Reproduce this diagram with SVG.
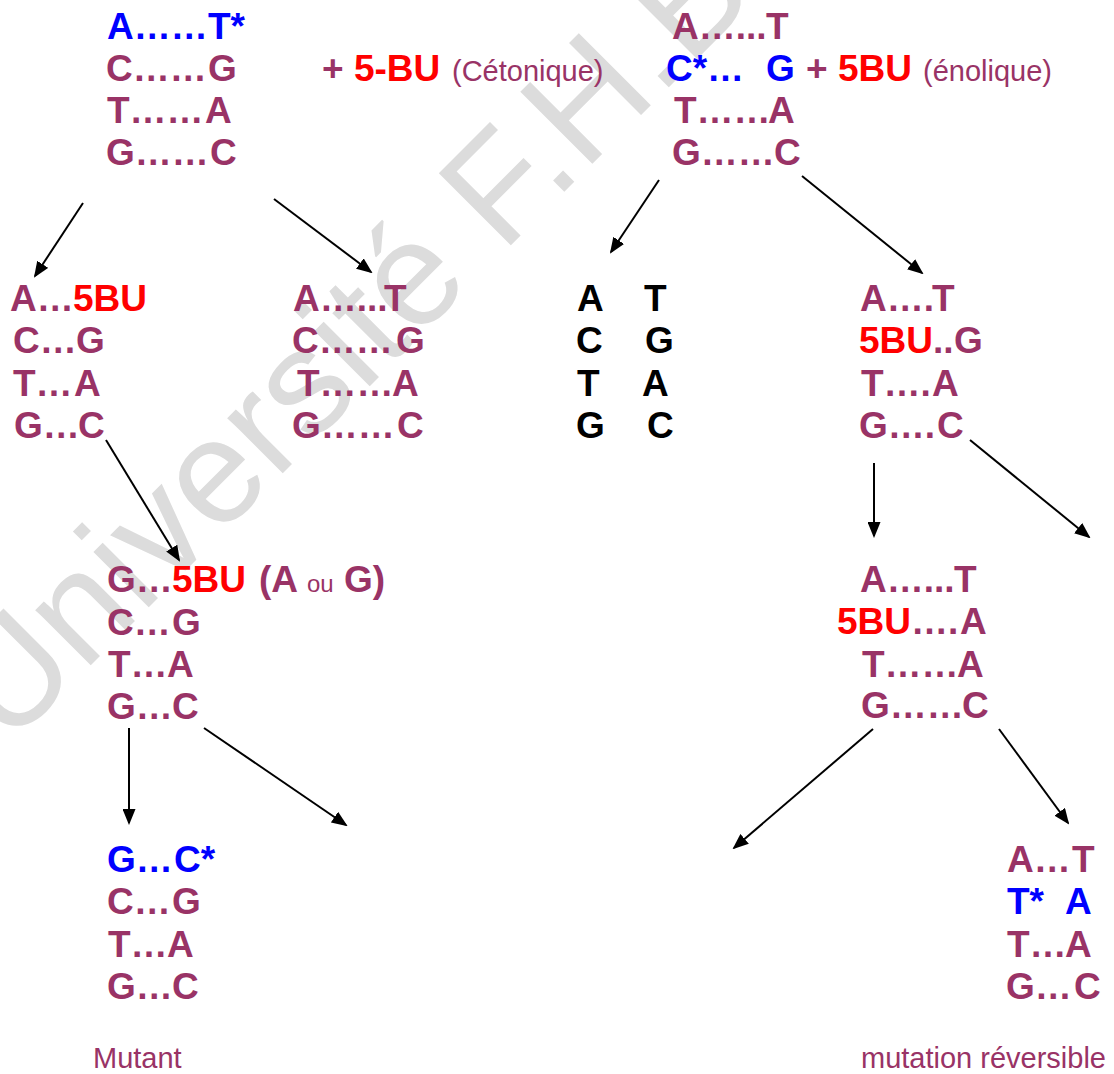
<svg xmlns="http://www.w3.org/2000/svg" width="1114" height="1074" viewBox="0 0 1114 1074">
<style>
text { font-family: "Liberation Sans", Arial, Helvetica, sans-serif; }
.b { font-weight: bold; font-size: 37px; fill: #993366; }
.n { font-weight: normal; font-size: 29px; fill: #993366; }
.s { font-size: 24px; }
.r { fill: #ff0000; }
.u { fill: #0000ff; }
.k { fill: #000000; }
.wm { font-size: 148px; fill: #dcdcdc; font-weight: normal; }
.c line { stroke: #000000; stroke-width: 2; fill: none; marker-end: url(#ah); }
</style>
<defs>
<marker id="ah" viewBox="0 0 16 13" refX="14" refY="6.5" markerWidth="16" markerHeight="13" markerUnits="userSpaceOnUse" orient="auto">
<path d="M0,0 L16,6.5 L0,13 z" fill="#000000"/>
</marker>
</defs>
<rect width="1114" height="1074" fill="#ffffff"/>

<g id="watermark">
<text class="wm" transform="translate(8,748) rotate(-45)">Université F.H.B.</text>
</g>

<g id="n1">
<text class="b u" y="39"><tspan x="107">A……</tspan><tspan x="208">T*</tspan></text>
<text class="b" y="81"><tspan x="106">C……</tspan><tspan x="208">G</tspan></text>
<text class="b" y="123"><tspan x="107">T……</tspan><tspan x="205">A</tspan></text>
<text class="b" y="165"><tspan x="106">G……</tspan><tspan x="210">C</tspan></text>
</g>
<g id="n1label">
<text class="b" y="81"><tspan x="322">+ </tspan><tspan class="r">5-BU</tspan></text>
<text class="n" x="452" y="81">(Cétonique)</text>
</g>

<g id="n2">
<text class="b" y="39"><tspan x="672">A…...</tspan><tspan x="766">T</tspan></text>
<text class="b" y="81"><tspan class="u" x="666">C*…</tspan><tspan class="u" x="766">G</tspan><tspan x="806">+</tspan><tspan class="r" x="838">5BU</tspan></text>
<text class="n" x="923" y="81">(énolique)</text>
<text class="b" y="123"><tspan x="674">T……</tspan><tspan x="768">A</tspan></text>
<text class="b" y="165"><tspan x="672">G……</tspan><tspan x="774">C</tspan></text>
</g>

<g id="n3">
<text class="b" y="311"><tspan x="10">A…</tspan><tspan class="r" x="73">5BU</tspan></text>
<text class="b" y="353"><tspan x="13">C…</tspan><tspan x="76">G</tspan></text>
<text class="b" y="396"><tspan x="13">T…</tspan><tspan x="74">A</tspan></text>
<text class="b" y="438"><tspan x="14">G…</tspan><tspan x="78">C</tspan></text>
</g>

<g id="n4">
<text class="b" y="311"><tspan x="293">A…...</tspan><tspan x="384">T</tspan></text>
<text class="b" y="353"><tspan x="292">C……</tspan><tspan x="396">G</tspan></text>
<text class="b" y="396"><tspan x="297">T……</tspan><tspan x="392">A</tspan></text>
<text class="b" y="438"><tspan x="292">G……</tspan><tspan x="397">C</tspan></text>
</g>

<g id="n5">
<text class="b k" y="311"><tspan x="577">A</tspan><tspan x="644">T</tspan></text>
<text class="b k" y="353"><tspan x="576">C</tspan><tspan x="645">G</tspan></text>
<text class="b k" y="396"><tspan x="577">T</tspan><tspan x="642">A</tspan></text>
<text class="b k" y="438"><tspan x="576">G</tspan><tspan x="647">C</tspan></text>
</g>

<g id="n6">
<text class="b" y="311"><tspan x="860">A….</tspan><tspan x="932">T</tspan></text>
<text class="b" y="353"><tspan class="r" x="859">5BU</tspan><tspan>..</tspan><tspan x="954">G</tspan></text>
<text class="b" y="396"><tspan x="861">T….</tspan><tspan x="932">A</tspan></text>
<text class="b" y="438"><tspan x="859">G….</tspan><tspan x="937">C</tspan></text>
</g>

<g id="n7">
<text class="b" y="592"><tspan x="107">G…</tspan><tspan class="r" x="172">5BU</tspan><tspan x="259">(A</tspan><tspan class="n s" x="307">ou</tspan><tspan x="344">G)</tspan></text>
<text class="b" y="635"><tspan x="107">C…</tspan><tspan x="172">G</tspan></text>
<text class="b" y="677"><tspan x="108">T…</tspan><tspan x="167">A</tspan></text>
<text class="b" y="719"><tspan x="107">G…</tspan><tspan x="172">C</tspan></text>
</g>

<g id="n8">
<text class="b" y="592"><tspan x="860">A…...</tspan><tspan x="954">T</tspan></text>
<text class="b" y="634"><tspan class="r" x="837">5BU</tspan><tspan>….</tspan><tspan x="960">A</tspan></text>
<text class="b" y="677"><tspan x="862">T……</tspan><tspan x="957">A</tspan></text>
<text class="b" y="718"><tspan x="861">G……</tspan><tspan x="962">C</tspan></text>
</g>

<g id="n9">
<text class="b u" y="872"><tspan x="107">G…</tspan><tspan x="174">C*</tspan></text>
<text class="b" y="914"><tspan x="107">C…</tspan><tspan x="172">G</tspan></text>
<text class="b" y="957"><tspan x="108">T…</tspan><tspan x="167">A</tspan></text>
<text class="b" y="999"><tspan x="107">G…</tspan><tspan x="172">C</tspan></text>
</g>

<g id="n10">
<text class="b" y="872"><tspan x="1007">A…</tspan><tspan x="1072">T</tspan></text>
<text class="b u" y="914"><tspan x="1007">T*</tspan><tspan x="1065">A</tspan></text>
<text class="b" y="957"><tspan x="1007">T…</tspan><tspan x="1065">A</tspan></text>
<text class="b" y="999"><tspan x="1006">G…</tspan><tspan x="1074">C</tspan></text>
</g>

<g id="labels">
<text class="n" x="93" y="1068">Mutant</text>
<text class="n" x="861" y="1068">mutation réversible</text>
</g>

<g id="connectors" class="c">
<line x1="83" y1="203" x2="35" y2="276"/>
<line x1="274" y1="199" x2="371" y2="272"/>
<line x1="659" y1="180" x2="611" y2="252"/>
<line x1="802" y1="176" x2="922" y2="273"/>
<line x1="106" y1="440" x2="179" y2="560"/>
<line x1="874" y1="463" x2="874" y2="536"/>
<line x1="970" y1="440" x2="1089" y2="537"/>
<line x1="129" y1="728" x2="129" y2="823"/>
<line x1="204" y1="728" x2="346" y2="825"/>
<line x1="873" y1="729" x2="734" y2="848"/>
<line x1="999" y1="729" x2="1068" y2="823"/>
</g>
</svg>
